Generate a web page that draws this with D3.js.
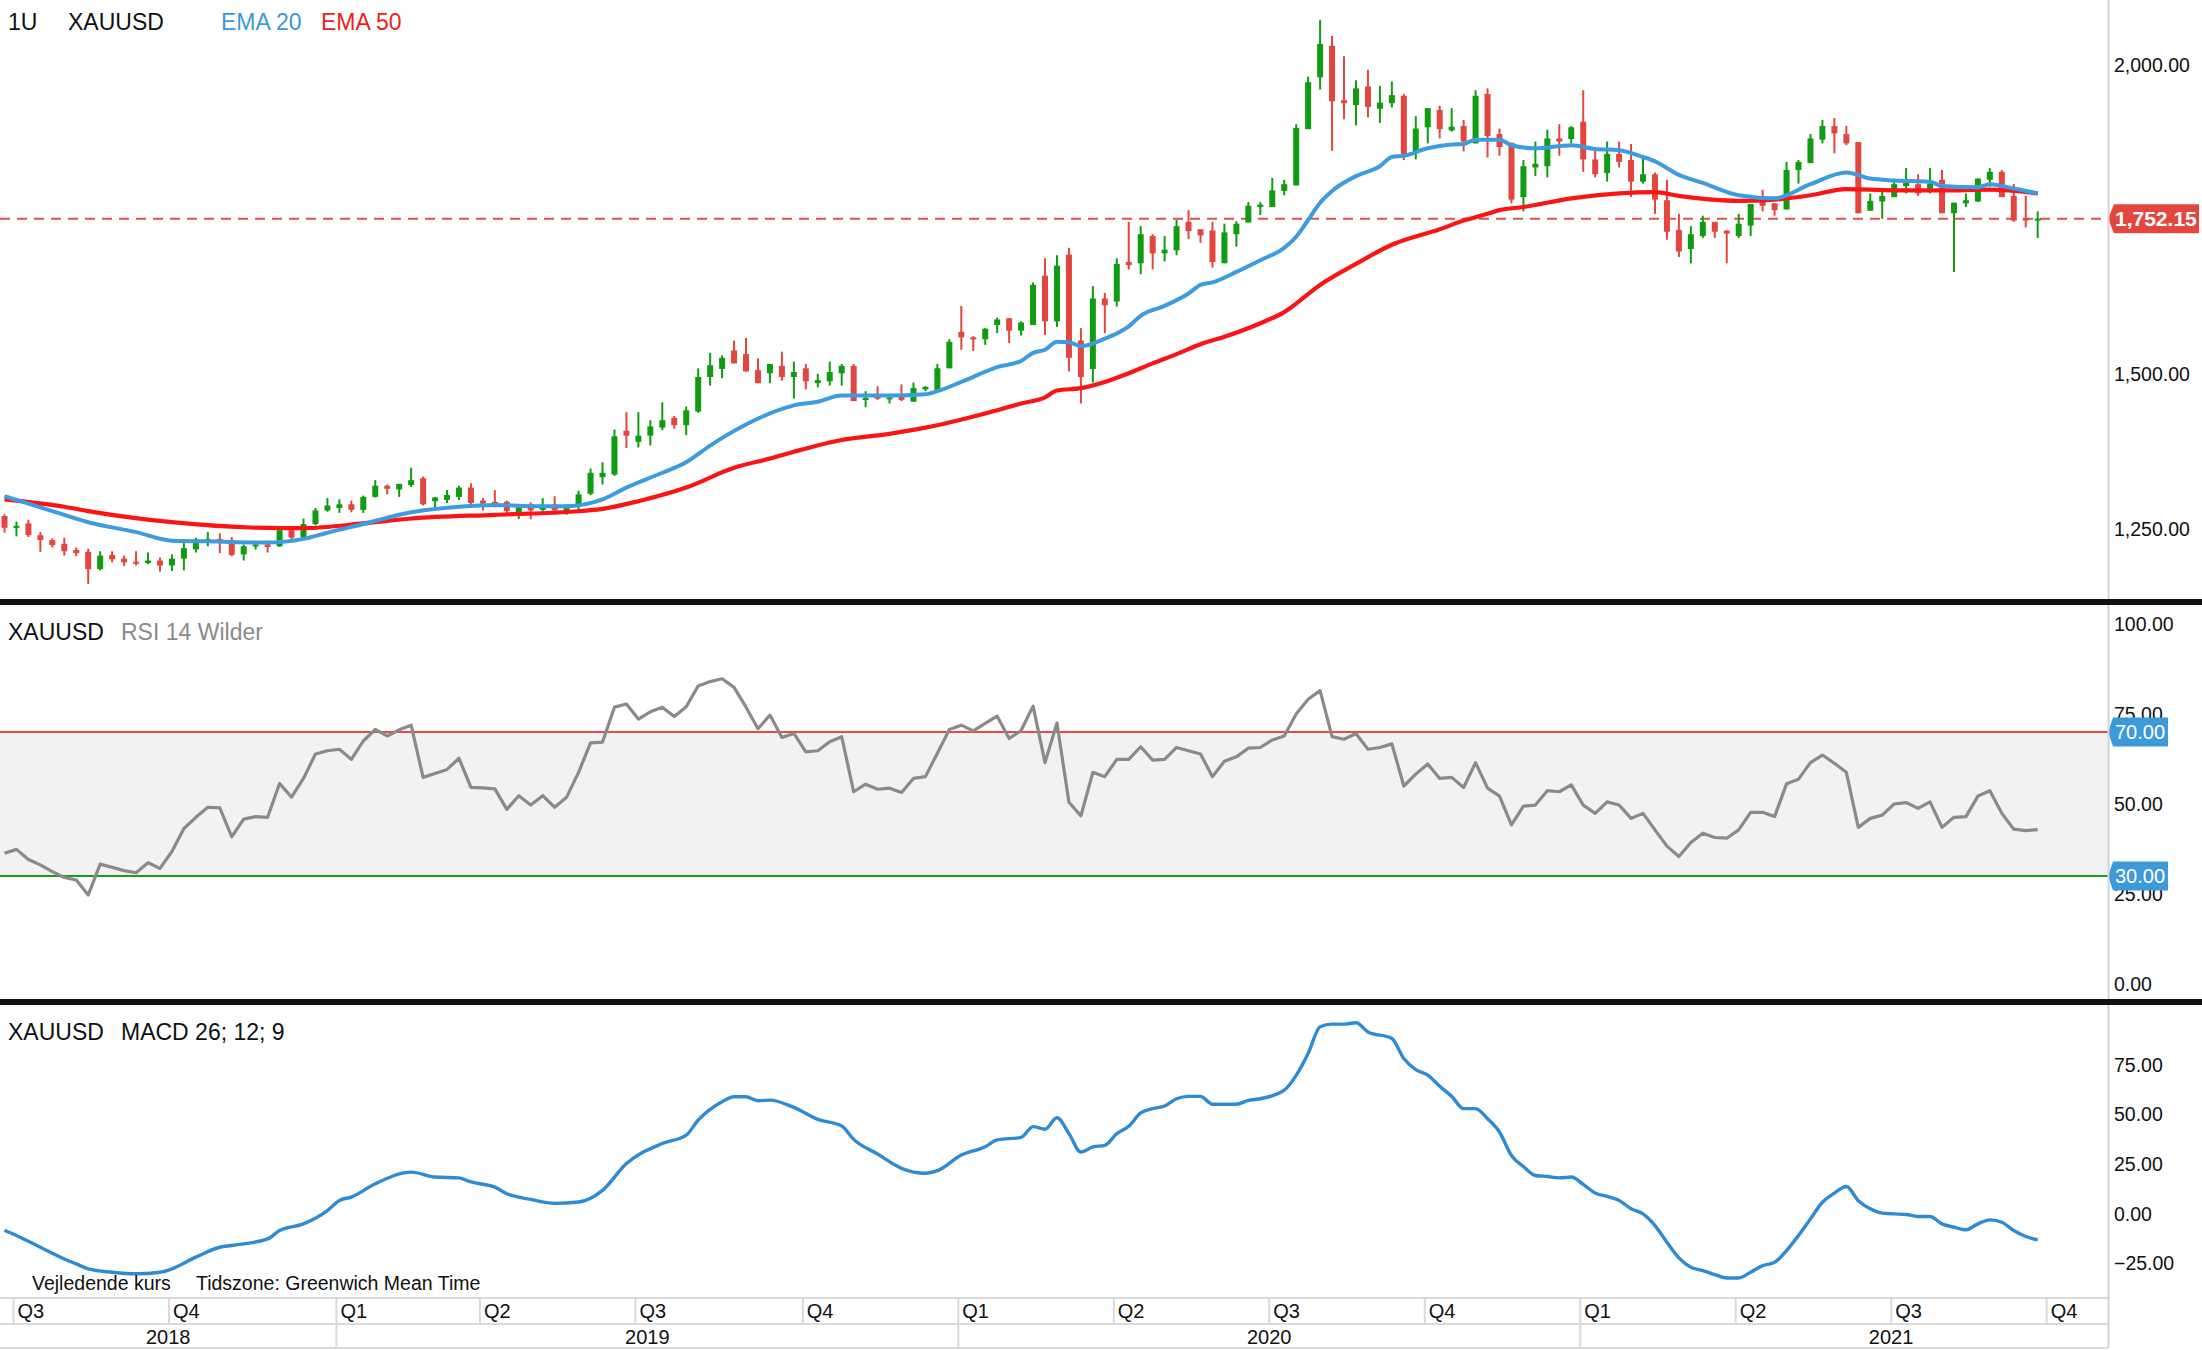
<!DOCTYPE html>
<html><head><meta charset="utf-8">
<script src="https://cdn.jsdelivr.net/npm/d3@7"></script>
<style>
html,body{margin:0;padding:0;background:#fff;}
svg{display:block;font-family:"Liberation Sans",Arial,Helvetica,sans-serif;}
</style></head><body>
<svg id="chart" width="2202" height="1350"></svg>
<script>
// ---------- DATA (weekly XAUUSD candles, first week starts 2018-06-25) ----------
const weekStart = "2018-06-25";
const opens = [1271,1252,1259,1240,1232,1226,1216,1213,1185,1208,
1202,1197,1195,1199,1191,1202,1217,1228,1234,1232,
1209,1222,1225,1222,1248,1236,1258,1280,1284,1290,
1281,1302,1320,1314,1321,1332,1295,1297,1302,1317,
1296,1294,1294,1277,1290,1281,1290,1279,1286,1307,
1334,1338,1409,1391,1401,1414,1430,1418,1440,1496,
1509,1539,1533,1507,1502,1514,1496,1510,1486,1489,
1502,1514,1459,1464,1460,1466,1456,1476,1474,1510,
1569,1560,1557,1580,1591,1571,1580,1660,1586,1694,
1555,1509,1623,1618,1682,1680,1724,1696,1701,1747,
1735,1733,1680,1727,1746,1771,1771,1797,1806,1897,
1981,2032,1944,1936,1966,1930,1939,1951,1859,1900,
1928,1895,1902,1874,1954,1889,1875,1787,1835,1837,
1882,1881,1909,1848,1826,1857,1847,1812,1824,1782,
1734,1703,1724,1747,1733,1724,1741,1782,1777,1767,
1831,1842,1880,1902,1889,1876,1765,1780,1787,1805,
1808,1801,1815,1761,1777,1780,1815,1828,1789,1753,
1749];
const highs = [1274,1262,1265,1245,1235,1236,1220,1218,1214,1214,
1207,1214,1212,1204,1209,1233,1236,1245,1243,1237,
1225,1230,1231,1250,1252,1267,1284,1300,1298,1296,
1304,1329,1322,1323,1349,1335,1302,1313,1320,1324,
1300,1313,1296,1289,1293,1300,1303,1290,1312,1348,
1358,1411,1439,1439,1426,1455,1433,1448,1510,1535,
1531,1555,1559,1526,1517,1537,1521,1517,1501,1521,
1517,1517,1473,1481,1468,1484,1487,1481,1517,1557,
1611,1562,1575,1592,1591,1586,1649,1688,1693,1705,
1575,1643,1632,1688,1747,1740,1727,1724,1750,1766,
1735,1747,1744,1748,1779,1779,1818,1815,1905,1982,
2074,2048,2015,1976,1993,1967,1974,1954,1918,1931,
1935,1931,1912,1960,1963,1898,1875,1847,1877,1896,
1905,1902,1960,1862,1877,1877,1873,1851,1827,1815,
1760,1740,1757,1747,1733,1760,1776,1799,1777,1844,
1847,1889,1912,1915,1902,1876,1793,1796,1817,1834,
1824,1834,1831,1778,1793,1817,1834,1831,1808,1789,
1764];
const lows = [1244,1238,1237,1213,1220,1207,1206,1161,1183,1196,
1190,1191,1193,1181,1182,1183,1212,1222,1211,1206,
1199,1217,1212,1221,1233,1234,1256,1278,1276,1277,
1276,1301,1306,1302,1318,1288,1283,1292,1297,1285,
1280,1285,1272,1266,1266,1278,1273,1273,1280,1305,
1322,1336,1381,1382,1385,1410,1412,1402,1438,1482,
1494,1518,1505,1486,1486,1490,1461,1476,1479,1482,
1482,1457,1447,1459,1453,1457,1456,1473,1471,1510,
1540,1538,1548,1567,1551,1563,1580,1564,1577,1505,
1453,1487,1567,1610,1670,1662,1670,1683,1693,1719,
1713,1673,1680,1707,1746,1758,1771,1790,1806,1897,
1961,1862,1913,1903,1916,1907,1932,1847,1848,1874,
1882,1893,1861,1874,1851,1854,1777,1764,1821,1819,
1854,1874,1828,1819,1812,1835,1787,1809,1760,1718,
1690,1680,1721,1721,1680,1721,1724,1764,1757,1767,
1809,1842,1874,1858,1871,1761,1765,1752,1787,1793,
1789,1793,1761,1666,1771,1779,1804,1787,1747,1738,
1721];
const closes = [1252,1255,1240,1232,1224,1214,1211,1185,1207,1201,
1196,1195,1199,1191,1202,1219,1233,1234,1232,1208,
1222,1225,1221,1248,1236,1258,1280,1288,1290,1281,
1302,1320,1315,1323,1329,1290,1301,1305,1317,1292,
1291,1291,1279,1285,1280,1287,1280,1286,1306,1341,
1341,1400,1401,1401,1416,1426,1418,1442,1496,1515,
1527,1518,1505,1486,1517,1496,1504,1489,1491,1504,
1514,1457,1462,1461,1463,1459,1478,1480,1510,1553,
1560,1557,1574,1589,1571,1584,1645,1586,1676,1527,
1496,1623,1612,1679,1677,1727,1696,1702,1740,1732,
1725,1682,1730,1744,1773,1775,1798,1808,1899,1973,
2035,1942,1939,1963,1933,1940,1952,1857,1898,1931,
1897,1901,1877,1951,1886,1868,1783,1837,1841,1882,
1877,1900,1848,1824,1857,1844,1812,1824,1783,1731,
1699,1727,1747,1731,1728,1744,1776,1773,1766,1831,
1844,1882,1902,1890,1874,1761,1781,1789,1808,1810,
1793,1809,1761,1778,1782,1817,1828,1787,1749,1749,
1752.15];
const lastPrice = 1752.15;

// EMA 20 (blue) read at these week numbers
const ema20Weeks = [0,4,7,11,14,17,22,25,27,30,34,38,41,44,47,50,52,55,57,59,62,64,66,68,70,74,77,78,80,83,85,86,87,88,89,90,92,94,95,97,99,100,101,103,105,107,108,109,110,111,113,115,116,117,119,121,122,123,125,126,128,131,133,135,137,138,140,142,145,148,151,154,156,158,161,162,165,166,168,170];
const ema20Values = [1303,1279,1261,1245,1231,1230,1228,1234,1244,1258,1277,1286,1289,1287,1287,1298,1317,1341,1358,1385,1419,1437,1450,1456,1466,1466,1468,1473,1488,1512,1522,1535,1540,1553,1552,1546,1558,1578,1595,1611,1631,1645,1649,1666,1685,1705,1723,1750,1778,1797,1821,1837,1852,1854,1866,1872,1873,1880,1880,1871,1866,1871,1865,1863,1852,1845,1823,1810,1790,1785,1808,1827,1817,1814,1812,1805,1803,1808,1801,1793];
// EMA 50 (red)
const ema50Weeks = [0,5,7,14,23,25,30,34,41,47,50,53,57,61,64,66,70,74,77,82,85,87,88,90,92,94,96,98,100,102,105,107,110,113,116,120,122,124,125,127,131,135,138,140,145,148,151,154,158,162,166,170];
const ema50Values = [1298,1286,1279,1261,1251.5,1251.5,1259,1267,1273,1277.5,1282.5,1295,1317,1349,1364,1375,1394,1404,1414,1437,1453,1463,1474,1478,1488,1502,1518,1533,1549,1561,1583,1601,1645,1679,1710,1735,1749,1760,1766,1771,1785,1793,1795,1789,1781,1783,1790,1800,1798,1798,1799,1793];

// RSI 14 Wilder, one value per week
const rsiValues = [36.3,37.4,34.6,33.1,31.2,29.6,28.9,24.7,33.3,32.4,
31.5,30.9,33.7,32.1,36.8,43.2,46.3,49.1,48.9,40.9,
45.8,46.5,46.3,55.7,51.9,57.1,63.9,64.8,65.2,62.4,
67.5,70.7,68.9,70.6,71.9,57.4,58.5,59.6,62.7,54.6,
54.5,54.2,48.5,52.3,49.7,52.3,49.1,51.9,58.8,67.0,
67.2,76.9,77.8,73.6,75.6,76.9,74.3,77.0,82.8,84.0,
84.8,82.4,76.9,70.9,74.7,68.5,69.6,64.5,64.8,67.3,
68.7,53.4,55.5,54.1,54.4,53.2,57.1,57.6,64.1,70.7,
71.9,70.3,72.4,74.4,68.2,70.4,77.2,61.5,72.5,50.5,
46.7,58.8,57.6,62.4,62.4,65.9,62.2,62.4,65.7,64.8,
63.9,57.6,61.9,63.1,65.5,65.7,67.8,68.9,75.0,79.1,
81.5,68.7,68.0,69.6,65.2,65.7,66.7,55.0,58.3,61.1,
57.1,57.4,54.6,61.5,54.4,52.2,44.2,49.4,49.7,53.7,
53.4,55.3,49.7,47.4,50.6,49.7,46.0,47.4,42.8,38.3,
35.4,39.3,41.9,40.7,40.5,42.8,47.7,47.7,46.5,55.6,
56.9,61.5,63.6,61.3,58.8,43.5,46.0,46.9,50.0,50.4,
48.8,50.6,43.5,46.3,46.5,52.2,53.7,47.4,43.0,42.6,
42.9];
const rsiUpper = 70, rsiLower = 30;

// MACD 26;12;9 line read at these week numbers
const macdWeeks = [0,1,3,5,6,7,9,11,13,14,16,18,19,22,23,25,27,28,29,31,34,36,38,39,41,42,44,46,48,50,52,55,57,58,60,61,62,63,64,66,68,70,71,73,75,77,78,80,82,83,85,86,87,88,89,90,91,92,93,94,95,96,97,98,99,100,101,103,104,105,107,108,109,110,111,112,113,114,116,117,118,119,120,121,122,123,124,125,126,127,128,129,130,131,132,133,134,135,136,137,138,139,140,141,142,143,144,145,146,147,148,149,150,151,152,153,154,155,156,157,158,159,160,161,162,163,164,165,166,167,168,169,170];
const macdValues = [-8.3,-11.0,-16.9,-22.8,-25.3,-27.8,-29.5,-30.3,-29.5,-27.8,-21.9,-16.9,-16.0,-12.7,-8.5,-5.1,1.6,6.7,8.4,15.1,21.0,18.5,18.1,16.0,13.4,10.1,7.2,5.2,5.9,11.8,25.3,35.4,39.6,47.2,56.5,59.0,59.0,57.0,57.3,53.6,47.6,44.2,37.5,30.1,22.9,20.4,21.7,29.6,33.8,37.2,38.5,43.9,42.6,48.4,40.4,31.1,33.7,34.5,40.4,44.1,50.8,53.0,54.3,58.0,59.2,59.2,55.2,55.2,57.2,58.0,62.3,69.8,80.8,94.3,95.6,95.6,96.3,91.7,88.4,78.3,72.7,69.9,64.3,59.2,53.0,53.0,47.9,41.2,29.4,23.8,19.3,18.8,18.1,18.5,14.8,10.4,8.7,6.7,2.5,-0.1,-6.0,-14.4,-22.3,-27.0,-28.7,-30.7,-32.4,-32.4,-29.5,-26.2,-24.5,-18.6,-11.0,-2.6,5.8,10.4,13.7,6.6,2.5,0.3,-0.1,-0.4,-1.4,-1.4,-5.1,-6.8,-8.1,-5.1,-3.1,-4.3,-8.5,-11.5,-13.2];

const priceTicks = [1250, 1500, 2000];
const rsiTicks = [0, 25, 50, 75, 100];
const macdTicks = [-25, 0, 25, 50, 75];

// ---------- LAYOUT ----------
const W = 2202, H = 1350, plotR = 2108;
const svg = d3.select("#chart");
svg.append("rect").attr("width", W).attr("height", H).attr("fill", "#fff");

const t0 = d3.utcParse("%Y-%m-%d")(weekStart);
const dates = opens.map((_, i) => d3.utcMonday.offset(t0, i));
const candles = dates.map((d, i) => ({d, o: opens[i], h: highs[i], l: lows[i], c: closes[i]}));

const x = d3.scaleUtc().domain([dates[0], dates[dates.length - 1]]).range([4.5, 2037.7]);
const y = d3.scaleLinear().domain([1250, 2000]).range([529, 65.5]);
const yRsi = d3.scaleLinear().domain([0, 100]).range([984, 624]);
const yMacd = d3.scaleLinear().domain([-25, 75]).range([1263.3, 1065]);

const defs = svg.append("defs");
function clip(id, y0, y1) {
  defs.append("clipPath").attr("id", id).append("rect").attr("x", 0).attr("y", y0).attr("width", plotR).attr("height", y1 - y0);
}
clip("cMain", 0, 599); clip("cRsi", 605, 998); clip("cMacd", 1005, 1298);

const green = "#109c10", red = "#e2463e";

// ---------- MAIN PANEL ----------
const gMain = svg.append("g").attr("clip-path", "url(#cMain)");
gMain.append("line").attr("x1", 0).attr("x2", plotR)
  .attr("y1", y(lastPrice)).attr("y2", y(lastPrice))
  .attr("stroke", "#d9534f").attr("stroke-width", 2).attr("stroke-dasharray", "10,7");

const cg = gMain.append("g");
cg.selectAll("line.wick").data(candles).join("line").attr("class", "wick")
  .attr("x1", d => x(d.d)).attr("x2", d => x(d.d))
  .attr("y1", d => y(d.h)).attr("y2", d => y(d.l))
  .attr("stroke", d => d.c >= d.o ? green : red).attr("stroke-width", 2);
cg.selectAll("rect.body").data(candles).join("rect").attr("class", "body")
  .attr("x", d => x(d.d) - 3).attr("width", 6)
  .attr("y", d => y(Math.max(d.o, d.c)))
  .attr("height", d => Math.max(2, Math.abs(y(d.o) - y(d.c))))
  .attr("fill", d => d.c >= d.o ? green : red);

const emaLine = d3.line().curve(d3.curveMonotoneX);
gMain.append("path")
  .attr("d", emaLine(ema50Weeks.map((w, k) => [x(dates[w]), y(ema50Values[k])])))
  .attr("fill", "none").attr("stroke", "#fa1414").attr("stroke-width", 4.2).attr("stroke-linejoin", "round");
gMain.append("path")
  .attr("d", emaLine(ema20Weeks.map((w, k) => [x(dates[w]), y(ema20Values[k])])))
  .attr("fill", "none").attr("stroke", "#3d9be0").attr("stroke-width", 4).attr("stroke-linejoin", "round");

// title
svg.append("text").attr("x", 8).attr("y", 30).attr("font-size", 23).attr("fill", "#111").text("1U");
svg.append("text").attr("x", 68).attr("y", 30).attr("font-size", 23).attr("fill", "#111").text("XAUUSD");
svg.append("text").attr("x", 221).attr("y", 30).attr("font-size", 23).attr("fill", "#3a9ad9").text("EMA 20");
svg.append("text").attr("x", 321).attr("y", 30).attr("font-size", 23).attr("fill", "#ee1c1c").text("EMA 50");

// price axis
const fmt = d3.format(",.2f");
svg.append("g").selectAll("text").data(priceTicks).join("text")
  .attr("x", 2114).attr("y", d => y(d)).attr("dy", "0.35em")
  .attr("font-size", 19.5).attr("fill", "#111").text(d => fmt(d));

function badge(cy, color, label, bold, fs) {
  const g = svg.append("g");
  g.append("path").attr("d", `M2108,${cy} L2114,${cy - 14.5} L2199,${cy - 14.5} L2199,${cy + 14.5} L2114,${cy + 14.5} Z`)
    .attr("fill", color);
  g.append("text").attr("x", 2115).attr("y", cy).attr("dy", "0.36em")
    .attr("font-size", fs).attr("font-weight", bold ? "bold" : "normal").attr("fill", "#fff").text(label);
  return g;
}
badge(y(lastPrice), red, fmt(lastPrice), true, 21);

// ---------- RSI PANEL ----------
const gRsi = svg.append("g").attr("clip-path", "url(#cRsi)");
gRsi.append("rect").attr("x", 0).attr("width", plotR)
  .attr("y", yRsi(rsiUpper)).attr("height", yRsi(rsiLower) - yRsi(rsiUpper)).attr("fill", "#f2f2f2");
gRsi.append("line").attr("x1", 0).attr("x2", plotR).attr("y1", yRsi(rsiUpper)).attr("y2", yRsi(rsiUpper))
  .attr("stroke", "#ea4a40").attr("stroke-width", 2);
gRsi.append("line").attr("x1", 0).attr("x2", plotR).attr("y1", yRsi(rsiLower)).attr("y2", yRsi(rsiLower))
  .attr("stroke", "#15a015").attr("stroke-width", 2.2);
gRsi.append("path")
  .attr("d", d3.line()(rsiValues.map((v, i) => [x(dates[i]), yRsi(v)])))
  .attr("fill", "none").attr("stroke", "#8a8a8a").attr("stroke-width", 3.2).attr("stroke-linejoin", "round");

svg.append("text").attr("x", 8).attr("y", 640).attr("font-size", 23).attr("fill", "#111").text("XAUUSD");
svg.append("text").attr("x", 121).attr("y", 640).attr("font-size", 23).attr("fill", "#8a8a8a").text("RSI 14 Wilder");

svg.append("g").selectAll("text").data(rsiTicks).join("text")
  .attr("x", 2114).attr("y", d => yRsi(d)).attr("dy", "0.35em")
  .attr("font-size", 19.5).attr("fill", "#111").text(d => d3.format(".2f")(d));
function smallBadge(cy, label) {
  const g = svg.append("g");
  g.append("path").attr("d", `M2108,${cy} L2113,${cy - 14.5} L2168,${cy - 14.5} L2168,${cy + 14.5} L2113,${cy + 14.5} Z`)
    .attr("fill", "#3d99da");
  g.append("text").attr("x", 2115).attr("y", cy).attr("dy", "0.36em")
    .attr("font-size", 20).attr("fill", "#fff").text(label);
}
smallBadge(yRsi(rsiUpper), d3.format(".2f")(rsiUpper));
smallBadge(yRsi(rsiLower), d3.format(".2f")(rsiLower));

// ---------- MACD PANEL ----------
const gMacd = svg.append("g").attr("clip-path", "url(#cMacd)");
gMacd.append("path")
  .attr("d", d3.line().curve(d3.curveMonotoneX)(macdWeeks.map((w, k) => [x(dates[w]), yMacd(macdValues[k])])))
  .attr("fill", "none").attr("stroke", "#2e8bd3").attr("stroke-width", 3.4).attr("stroke-linejoin", "round");
svg.append("text").attr("x", 8).attr("y", 1040).attr("font-size", 23).attr("fill", "#111").text("XAUUSD");
svg.append("text").attr("x", 121).attr("y", 1040).attr("font-size", 23).attr("fill", "#111").text("MACD 26; 12; 9");
svg.append("g").selectAll("text").data(macdTicks).join("text")
  .attr("x", 2114).attr("y", d => yMacd(d)).attr("dy", "0.35em")
  .attr("font-size", 19.5).attr("fill", "#111").text(d => d3.format(".2f")(d));

svg.append("text").attr("x", 32).attr("y", 1290).attr("font-size", 19.5).attr("fill", "#111").text("Vejledende kurs");
svg.append("text").attr("x", 196).attr("y", 1290).attr("font-size", 19.5).attr("fill", "#111").text("Tidszone: Greenwich Mean Time");

// ---------- TIME AXIS ----------
const axisG = svg.append("g");
const qStarts = d3.utcMonth.every(3).range(d3.utcYear.floor(dates[0]), d3.utcYear.offset(d3.utcYear.floor(dates[dates.length - 1]), 1));
const qTicks = qStarts.map(q => ({q, d: d3.utcMonday.ceil(q)}))
  .map(o => ({...o, px: x(o.d) - 3}))
  .filter(o => o.px >= 0 && o.px < plotR);
[1298, 1324, 1348].forEach(yy => axisG.append("line").attr("x1", 0).attr("x2", plotR).attr("y1", yy).attr("y2", yy)
  .attr("stroke", "#dadada").attr("stroke-width", 2));
axisG.selectAll("line.qt").data(qTicks).join("line").attr("class", "qt")
  .attr("x1", d => d.px).attr("x2", d => d.px).attr("y1", 1298).attr("y2", 1324)
  .attr("stroke", "#dadada").attr("stroke-width", 2);
axisG.selectAll("text.ql").data(qTicks).join("text").attr("class", "ql")
  .attr("x", d => d.px + 4).attr("y", 1318).attr("font-size", 20).attr("fill", "#111")
  .text(d => "Q" + (Math.floor(d.q.getUTCMonth() / 3) + 1));

const yearList = d3.range(dates[0].getUTCFullYear(), dates[dates.length - 1].getUTCFullYear() + 1);
const yearPos = yearList.map(yr => {
  const s = Math.max(0, x(d3.utcMonday.ceil(new Date(Date.UTC(yr, 0, 1)))) - 3);
  const e = Math.min(W, x(d3.utcMonday.ceil(new Date(Date.UTC(yr + 1, 0, 1)))) - 3);
  return {yr, s, e};
});
axisG.selectAll("line.yt").data(yearPos.filter(p => p.s > 0)).join("line").attr("class", "yt")
  .attr("x1", d => d.s).attr("x2", d => d.s).attr("y1", 1324).attr("y2", 1348)
  .attr("stroke", "#dadada").attr("stroke-width", 2);
axisG.selectAll("text.yl").data(yearPos).join("text").attr("class", "yl")
  .attr("x", d => (d.s + d.e) / 2).attr("y", 1344).attr("text-anchor", "middle")
  .attr("font-size", 20).attr("fill", "#111").text(d => d.yr);

// right axis border + panel separators
svg.append("line").attr("x1", plotR + 0.5).attr("x2", plotR + 0.5).attr("y1", 0).attr("y2", 1348)
  .attr("stroke", "#d4d4d4").attr("stroke-width", 2);
svg.append("rect").attr("x", 0).attr("y", 599).attr("width", W).attr("height", 6).attr("fill", "#111");
svg.append("rect").attr("x", 0).attr("y", 999).attr("width", W).attr("height", 6).attr("fill", "#111");
</script>
</body></html>
